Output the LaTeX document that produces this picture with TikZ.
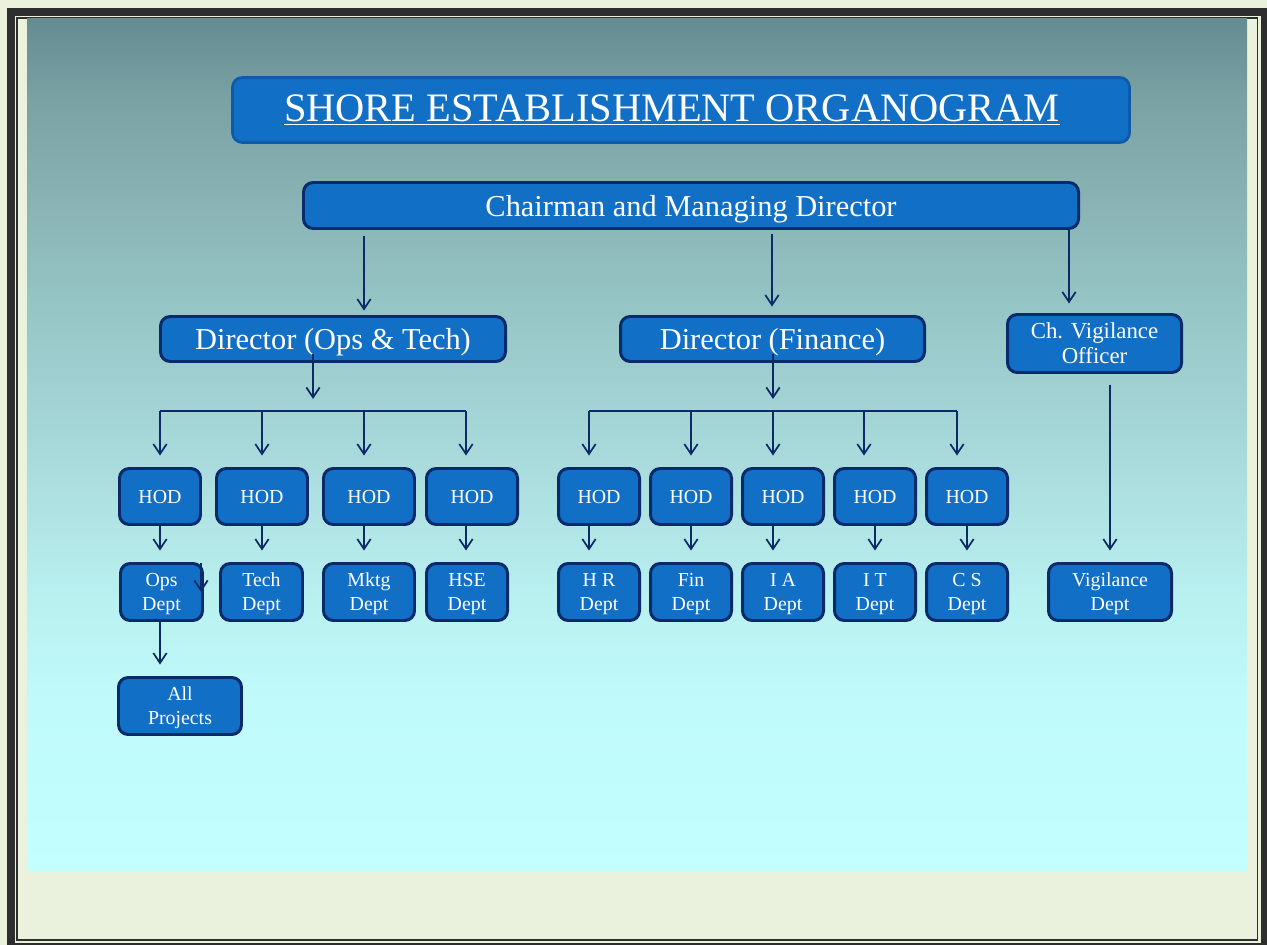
\documentclass[tikz,border=0pt]{standalone}
\usepackage{fontspec}
\setmainfont{Liberation Serif}
\usetikzlibrary{arrows.meta,calc}
\definecolor{cream}{HTML}{EAF1DD}
\definecolor{framecol}{HTML}{2E2E2E}
\definecolor{boxfill}{HTML}{116FC6}
\definecolor{boxline}{HTML}{0A2A6A}
\definecolor{titleline}{HTML}{0D5BA6}
\definecolor{arrowcol}{HTML}{0B2A66}
\definecolor{s0}{HTML}{C3FFFF}
\definecolor{s1}{HTML}{C0FAFA}
\definecolor{s2}{HTML}{B9F0F0}
\definecolor{s3}{HTML}{AEE1E2}
\definecolor{s4}{HTML}{A2D2D3}
\definecolor{s5}{HTML}{95C4C5}
\definecolor{s6}{HTML}{89B2B4}
\definecolor{s7}{HTML}{7AA2A5}
\definecolor{s8}{HTML}{648C91}
\pgfdeclareverticalshading{panelshade}{100bp}{color(0bp)=(s0); color(25bp)=(s0); color(35bp)=(s1); color(40.88bp)=(s2); color(46.76bp)=(s3); color(52.65bp)=(s4); color(58.53bp)=(s5); color(64.41bp)=(s6); color(70.29bp)=(s7); color(75bp)=(s8); color(100bp)=(s8)}
\tikzset{
  box/.style={draw=boxline, line width=1.7pt, fill=boxfill, rounded corners=5.5pt,
    text=white, inner sep=0pt, align=center},
  bigtxt/.style={font=\fontsize{17.3pt}{20pt}\selectfont, text depth=0pt},
  midtxt/.style={font=\fontsize{13pt}{14.2pt}\selectfont, text depth=0pt},
  smalltxt/.style={font=\fontsize{11.3pt}{13.6pt}\selectfont, text depth=0pt},
  arr/.style={draw=arrowcol, line width=1pt, -{Straight Barb[length=5.7pt,width=7.6pt]}},
  busline/.style={draw=arrowcol, line width=1pt}
}
% #1 options, #2 name, #3 x1, #4 y1, #5 x2, #6 y2 (pixels, path of the border), #7 text
\newcommand\orgbox[7]{%
  \node[box,#1, minimum width={(#5-#3)*0.02cm}, minimum height={(#6-#4)*0.02cm}]
    (#2) at ({(#3+#5)/2},{(#4+#6)/2}) {#7};}
\begin{document}
\begin{tikzpicture}[x=0.02cm,y=-0.02cm]
\useasboundingbox (0,0) rectangle (1267,945);
\fill[cream] (0,0) rectangle (1267,945);
\begin{scope}
  \clip (0,0) rectangle (1267,945);
  \draw[framecol, line width=4.5pt] (11,12) rectangle (1265,947);
\end{scope}
\draw[framecol, line width=1.1pt] (17,18) rectangle (1257.5,940);
\shade[shading=panelshade] (27,19) rectangle (1247,870);

% nodes
\orgbox{draw=titleline, line width=1.5pt, font=\fontsize{23pt}{27pt}\selectfont}{title}{232.5}{77.5}{1129.5}{142.5}{\underline{SHORE ESTABLISHMENT ORGANOGRAM}\hspace*{0.36cm}}
\orgbox{bigtxt}{cmd}{303.5}{182.5}{1078.5}{228.5}{Chairman and Managing Director}
\orgbox{bigtxt}{dot}{160.5}{316.5}{505.5}{361.5}{Director (Ops \& Tech)}
\orgbox{bigtxt}{dfin}{620.5}{316.5}{924.5}{361.5}{Director (Finance)}
\orgbox{midtxt}{cvo}{1007.5}{314.5}{1181.5}{372.5}{Ch. Vigilance\\Officer}

\orgbox{smalltxt}{h1}{119.5}{468.5}{200.5}{524.5}{HOD}
\orgbox{smalltxt}{h2}{216.5}{468.5}{307.5}{524.5}{HOD}
\orgbox{smalltxt}{h3}{323.5}{468.5}{414.5}{524.5}{HOD}
\orgbox{smalltxt}{h4}{426.5}{468.5}{517.5}{524.5}{HOD}
\orgbox{smalltxt}{h5}{558.5}{468.5}{639.5}{524.5}{HOD}
\orgbox{smalltxt}{h6}{650.5}{468.5}{731.5}{524.5}{HOD}
\orgbox{smalltxt}{h7}{742.5}{468.5}{823.5}{524.5}{HOD}
\orgbox{smalltxt}{h8}{834.5}{468.5}{915.5}{524.5}{HOD}
\orgbox{smalltxt}{h9}{926.5}{468.5}{1007.5}{524.5}{HOD}

\orgbox{smalltxt}{d1}{120.5}{563.5}{202.5}{620.5}{Ops\\Dept}
\orgbox{smalltxt}{d2}{220.5}{563.5}{302.5}{620.5}{Tech\\Dept}
\orgbox{smalltxt}{d3}{323.5}{563.5}{414.5}{620.5}{Mktg\\Dept}
\orgbox{smalltxt}{d4}{426.5}{563.5}{507.5}{620.5}{HSE\\Dept}
\orgbox{smalltxt}{d5}{558.5}{563.5}{639.5}{620.5}{H R\\Dept}
\orgbox{smalltxt}{d6}{650.5}{563.5}{731.5}{620.5}{Fin\\Dept}
\orgbox{smalltxt}{d7}{742.5}{563.5}{823.5}{620.5}{I A\\Dept}
\orgbox{smalltxt}{d8}{834.5}{563.5}{915.5}{620.5}{I T\\Dept}
\orgbox{smalltxt}{d9}{926.5}{563.5}{1007.5}{620.5}{C S\\Dept}
\orgbox{smalltxt}{vig}{1048.5}{563.5}{1171.5}{620.5}{Vigilance\\Dept}
\orgbox{smalltxt}{ap}{118.5}{677.5}{241.5}{734.5}{All\\Projects}

% x positions of connectors
\coordinate (xa) at (364,0);
\coordinate (xb) at (772,0);
\coordinate (xc) at (1069,0);
\coordinate (xd) at (313,0);
\coordinate (xe) at (773,0);
\coordinate (x1) at (160,0);
\coordinate (x2) at (262,0);
\coordinate (x3) at (364,0);
\coordinate (x4) at (466,0);
\coordinate (x5) at (589,0);
\coordinate (x6) at (691,0);
\coordinate (x7) at (773,0);
\coordinate (x8) at (864,0);
\coordinate (x9) at (957,0);
\coordinate (y8) at (875,0);
\coordinate (y9) at (967,0);
\coordinate (xv) at (1110,0);

% chairman to directors
\draw[arr, shorten <=3.5pt, shorten >=2.5pt] (cmd.south -| xa) -- (dot.north -| xa);
\draw[arr, shorten <=2pt, shorten >=4.8pt] (cmd.south -| xb) -- (dfin.north -| xb);
\draw[arr, shorten >=5.4pt] (cmd.south -| xc) -- (cvo.north -| xc);

% director (ops & tech) to bus
\coordinate (tipL) at (313,399);
\coordinate (busL1) at (160,411);
\coordinate (busL4) at (466,411);
\draw[arr] ($(dot.south -| xd)+(0,-9)$) -- (tipL);
\draw[busline] (busL1) -- (busL4);
\foreach \i/\h in {1/h1,2/h2,3/h3,4/h4}
  \draw[arr, shorten >=6.5pt] (busL1 -| x\i) -- (\h.north -| x\i);

% director (finance) to bus
\coordinate (tipR) at (773,399);
\coordinate (busR5) at (589,411);
\coordinate (busR9) at (957,411);
\draw[arr] ($(dfin.south -| xe)+(0,-9)$) -- (tipR);
\draw[busline] (busR5) -- (busR9);
\foreach \i/\h in {5/h5,6/h6,7/h7,8/h8,9/h9}
  \draw[arr, shorten >=6.5pt] (busR5 -| x\i) -- (\h.north -| x\i);

% HOD to departments
\draw[arr, shorten >=6.5pt] (h1.south -| x1) -- (d1.north -| x1);
\draw[arr, shorten >=6.5pt] (h2.south -| x2) -- (d2.north -| x2);
\draw[arr, shorten >=6.5pt] (h3.south -| x3) -- (d3.north -| x3);
\draw[arr, shorten >=6.5pt] (h4.south -| x4) -- (d4.north -| x4);
\draw[arr, shorten >=6.5pt] (h5.south -| x5) -- (d5.north -| x5);
\draw[arr, shorten >=6.5pt] (h6.south -| x6) -- (d6.north -| x6);
\draw[arr, shorten >=6.5pt] (h7.south -| x7) -- (d7.north -| x7);
\draw[arr, shorten >=6.5pt] (h8.south -| y8) -- (d8.north -| y8);
\draw[arr, shorten >=6.5pt] (h9.south -| y9) -- (d9.north -| y9);

% ops dept to all projects
\draw[arr, shorten >=6.5pt] (d1.south -| x1) -- (ap.north -| x1);

% stray arrow on Ops Dept
\coordinate (strayA) at (201,563);
\coordinate (strayB) at (201,592);
\draw[arr] (strayA) -- (strayB);

% vigilance
\draw[arr, shorten <=6pt, shorten >=6.5pt] (cvo.south -| xv) -- (vig.north -| xv);
\end{tikzpicture}
\end{document}
